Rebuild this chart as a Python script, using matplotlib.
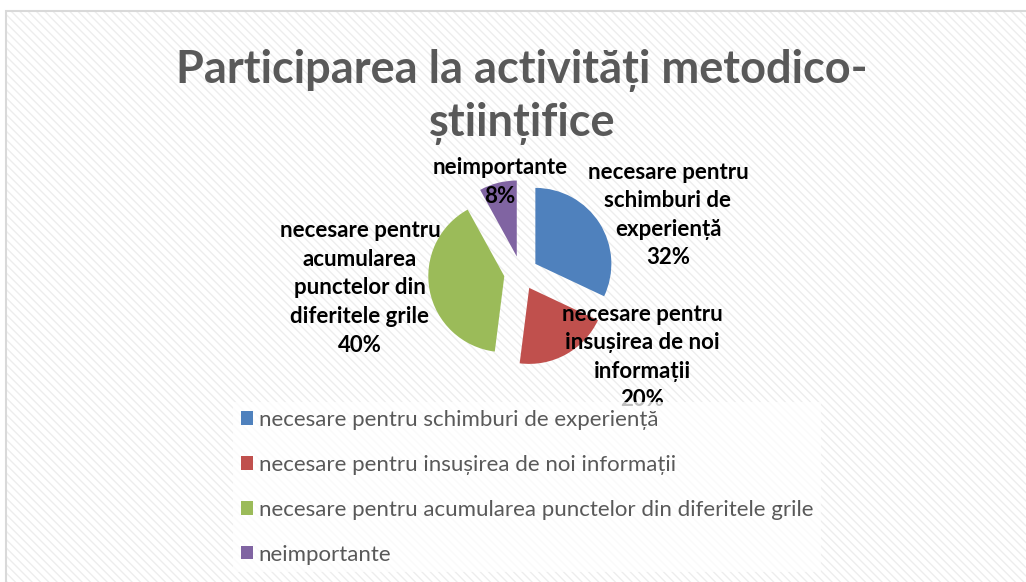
import matplotlib
matplotlib.use('Agg')
import matplotlib.pyplot as plt
from matplotlib.patches import Rectangle

plt.rcParams['font.family'] = ['Lato', 'DejaVu Sans']
plt.rcParams['hatch.linewidth'] = 1.0

categories = ['necesare pentru schimburi de experiență',
              'necesare pentru insușirea de noi informații',
              'necesare pentru acumularea punctelor din diferitele grile',
              'neimportante']
values = [32, 20, 40, 8]
label_lines = ['necesare pentru\nschimburi de\nexperiență',
               'necesare pentru\ninsușirea de noi\ninformații',
               'necesare pentru\nacumularea\npunctelor din\ndiferitele grile',
               'neimportante']
colors = ['#4F81BD', '#C0504D', '#9BBB59', '#8064A2']
title = 'Participarea la activități metodico-\nștiințifice'

W, H = 1026, 582
fig = plt.figure(figsize=(W / 100, H / 100), dpi=100)
ax = fig.add_axes([0, 0, 1, 1])

# hatched chart area + border
ax.add_patch(Rectangle((6, -10), W, H - 1, facecolor='white',
                       edgecolor='#ededed', hatch='\\\\\\\\', linewidth=0, zorder=0))
ax.add_patch(Rectangle((6, -10), W, H - 1, facecolor='none',
                       edgecolor='#d9d9d9', linewidth=1.5, zorder=1))

wedges, _ = ax.pie(values, colors=colors, startangle=90, counterclock=False,
                   radius=76, center=(521, H - 273), explode=[17] * 4,
                   wedgeprops=dict(linewidth=0), frame=True)
for w in wedges:
    w.set_zorder(2)
ax.set_xlim(0, W)
ax.set_ylim(0, H)
ax.set_aspect('auto')
ax.axis('off')

ax.text(522, H - 97, title, ha='center', va='center', fontsize=32.5,
        fontweight='bold', color='#595959', linespacing=1.27)

# data labels (x, y from top)
label_pos = [(668, 215), (642, 357), (360, 288), (500, 182)]
for txt, v, (x, y) in zip(label_lines, values, label_pos):
    ax.text(x, H - y, f'{txt}\n{v}%', ha='center', va='center',
            fontsize=16, fontweight='bold', color='black',
            linespacing=1.45, zorder=3)

leg = ax.legend(wedges, categories, loc='upper left',
                bbox_to_anchor=(222, H - 391), bbox_transform=ax.transData,
                frameon=True, fancybox=False, framealpha=0.75,
                edgecolor='none', facecolor='white', fontsize=16,
                labelcolor='#595959', handlelength=0.55, handleheight=0.55,
                handletextpad=0.25, labelspacing=1.12, borderpad=0.35)
leg.set_zorder(5)

fig.savefig('out.png', dpi=100)
